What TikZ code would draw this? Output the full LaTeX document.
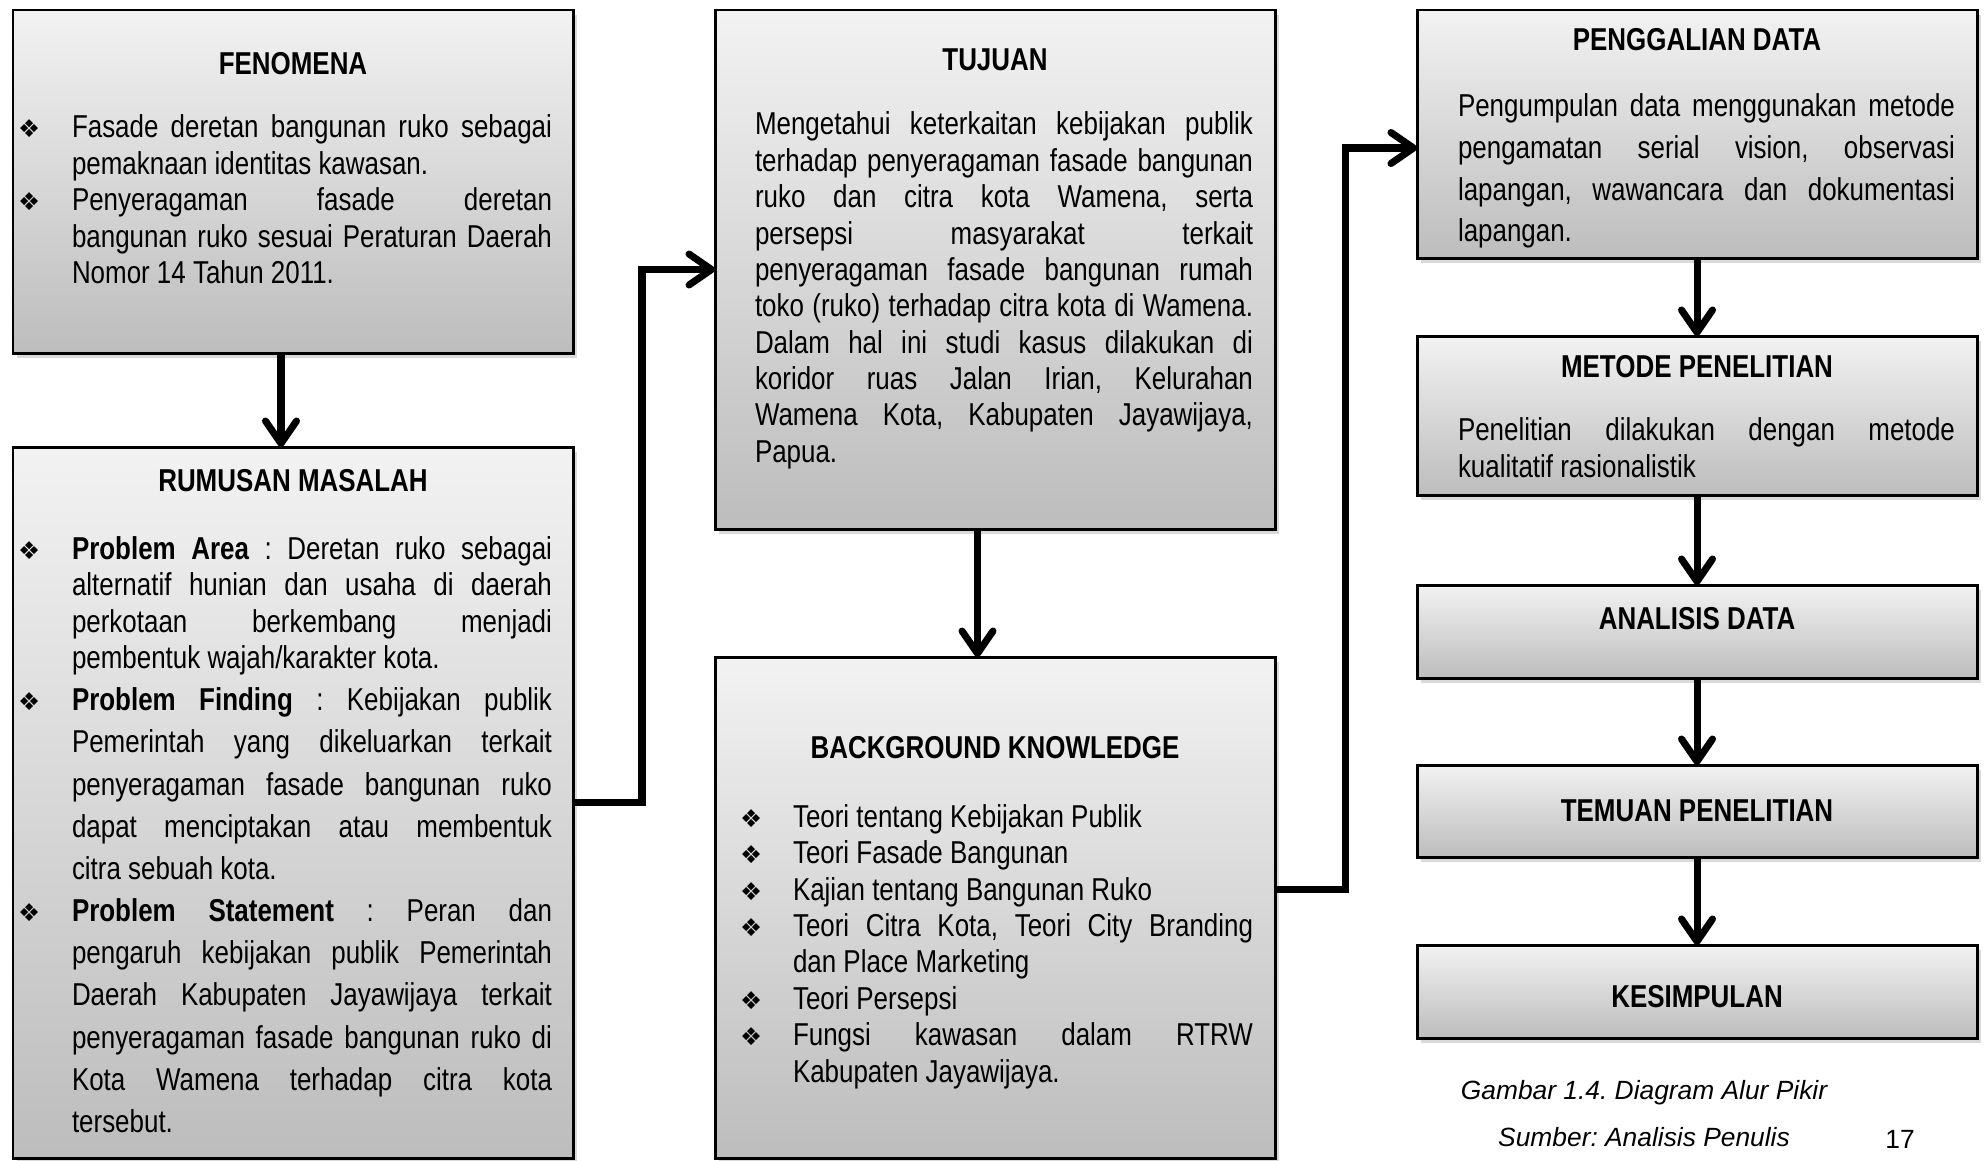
\documentclass[tikz,border=0pt]{standalone}
\usepackage{fontspec}
\setmainfont{Liberation Sans}[FakeStretch=0.82]
\newfontfamily\tandafont{DejaVu Sans}
\newfontfamily\capfont{Liberation Sans}
\usetikzlibrary{positioning,shadows,arrows.meta}
\frenchspacing

\newcommand{\tanda}{{\tandafont\fontsize{14}{14}\selectfont ❖}}
\newcommand{\butir}[1][1.08cm]{\par\hangindent=#1\hangafter=1\noindent\makebox[#1][l]{\tanda}\ignorespaces}
\newcommand{\teks}{\fontsize{18}{20.7}\selectfont\tolerance=10000\hbadness=10000\hyphenpenalty=10000}

\tikzset{
  kotak/.style={draw, line width=1.7pt, top color=gray!10, bottom color=gray!52,
    minimum width=11.2cm, outer sep=0pt, inner sep=0pt,
    drop shadow={shadow xshift=0.08cm, shadow yshift=-0.1cm, opacity=0.3}},
  judul/.style={font=\teks\bfseries, inner sep=0pt, outer sep=0pt},
  isi/.style={font=\teks, text width=#1, align=justify, inner sep=0pt, outer sep=0pt},
  panah/.style={line width=4pt, -{Straight Barb[length=0.45cm, width=0.62cm, round]}},
  keterangan/.style={font=\capfont\fontsize{15}{18}\selectfont, inner sep=0pt},
  miring/.style={font=\capfont\fontsize{15}{18}\selectfont\itshape, inner sep=0pt}
}

\begin{document}
\begin{tikzpicture}
    \useasboundingbox (0,0) rectangle (39.72,-23.2);
    % kotak-kotak
    \node[kotak, minimum height=6.86cm, anchor=north west] (fen) at (0.26,-0.2) {};
    \node[kotak, minimum height=14.22cm, below=1.88cm of fen] (rum) {};
    \node[kotak, minimum height=10.38cm, right=2.84cm of fen.north east, anchor=north west] (tuj) {};
    \node[kotak, minimum height=10.02cm, below=2.56cm of tuj] (bg) {};
    \node[kotak, minimum height=4.96cm, right=2.84cm of tuj.north east, anchor=north west] (pen) {};
    \node[kotak, minimum height=3.18cm, below=1.56cm of pen] (met) {};
    \node[kotak, minimum height=1.86cm, below=1.8cm of met] (ana) {};
    \node[kotak, minimum height=1.84cm, below=1.74cm of ana] (tem) {};
    \node[kotak, minimum height=1.86cm, below=1.76cm of tem] (kes) {};
    % judul
    \node[judul, below=0.84cm of fen.north] (fenjudul) {FENOMENA};
    \node[judul, below=0.44cm of rum.north] (rumjudul) {RUMUSAN MASALAH};
    \node[judul, below=0.78cm of tuj.north] (tujjudul) {TUJUAN};
    \node[judul, below=1.58cm of bg.north] (bgjudul) {BACKGROUND KNOWLEDGE};
    \node[judul, below=0.36cm of pen.north] (penjudul) {PENGGALIAN DATA};
    \node[judul, below=0.38cm of met.north] (metjudul) {METODE PENELITIAN};
    \node[judul, below=0.44cm of ana.north] (anajudul) {ANALISIS DATA};
    \node[judul, below=0.7cm of tem.north] (temjudul) {TEMUAN PENELITIAN};
    \node[judul, below=0.8cm of kes.north] (kesjudul) {KESIMPULAN};
    % isi
    \node[isi=10.68cm, below right=1.83cm and 0.1cm of fen.north west] (fenisi) {%
      \butir Fasade deretan bangunan ruko sebagai \linebreak pemaknaan identitas kawasan.
      \butir Penyeragaman fasade deretan \linebreak bangunan ruko sesuai Peraturan Daerah \linebreak Nomor 14 Tahun 2011.\par};
    \node[isi=10.68cm, below right=1.52cm and 0.1cm of rum.north west] (rumisi) {%
      \butir \textbf{Problem Area} : Deretan ruko sebagai \linebreak alternatif hunian dan usaha di daerah \linebreak perkotaan berkembang menjadi \linebreak pembentuk wajah/karakter kota.
      \butir \baselineskip=24pt \textbf{Problem Finding} : Kebijakan publik \linebreak Pemerintah yang dikeluarkan terkait \linebreak penyeragaman fasade bangunan ruko \linebreak dapat menciptakan atau membentuk \linebreak citra sebuah kota.
      \butir \textbf{Problem Statement} : Peran dan \linebreak pengaruh kebijakan publik Pemerintah \linebreak Daerah Kabupaten Jayawijaya terkait \linebreak penyeragaman fasade bangunan ruko di \linebreak Kota Wamena terhadap citra kota \linebreak tersebut.\par};
    \node[isi=9.96cm, below right=2.04cm and 0.8cm of tuj.north west] (tujisi) {%
      \noindent Mengetahui keterkaitan kebijakan publik \linebreak terhadap penyeragaman fasade bangunan \linebreak ruko dan citra kota Wamena, serta \linebreak persepsi masyarakat terkait \linebreak penyeragaman fasade bangunan rumah \linebreak toko (ruko) terhadap citra kota di Wamena. \linebreak Dalam hal ini studi kasus dilakukan di \linebreak koridor ruas Jalan Irian, Kelurahan \linebreak Wamena Kota, Kabupaten Jayawijaya, \linebreak Papua.\par};
    \node[isi=10.26cm, below right=2.68cm and 0.5cm of bg.north west] (bgisi) {%
      \butir[1.06cm] Teori tentang Kebijakan Publik
      \butir[1.06cm] Teori Fasade Bangunan
      \butir[1.06cm] Kajian tentang Bangunan Ruko
      \butir[1.06cm] Teori Citra Kota, Teori City Branding \linebreak dan Place Marketing
      \butir[1.06cm] Teori Persepsi
      \butir[1.06cm] Fungsi kawasan dalam RTRW \linebreak Kabupaten Jayawijaya.\par};
    \node[isi=9.94cm, below right=1.68cm and 0.82cm of pen.north west] (penisi) {%
      \noindent\baselineskip=23.7pt Pengumpulan data menggunakan metode \linebreak pengamatan serial vision, observasi \linebreak lapangan, wawancara dan dokumentasi \linebreak lapangan.\par};
    \node[isi=9.94cm, below right=1.64cm and 0.82cm of met.north west] (metisi) {%
      \noindent Penelitian dilakukan dengan metode \linebreak kualitatif rasionalistik\par};
    % panah
    \draw[panah] ([xshift=-0.24cm]fen.south) -- ([xshift=-0.24cm]rum.north);
    \draw[panah] (rum.east) -- ++(1.38,0) |- (tuj.west);
    \draw[panah] ([xshift=-0.35cm]tuj.south) -- ([xshift=-0.35cm]bg.north);
    \draw[panah] ([yshift=0.37cm]bg.east) -- ++(1.4,0) |- ([yshift=-0.28cm]pen.west);
    \draw[panah] (pen.south) -- (met.north);
    \draw[panah] (met.south) -- (ana.north);
    \draw[panah] (ana.south) -- (tem.north);
    \draw[panah] (tem.south) -- (kes.north);
    % keterangan
    \node[miring] (gambar) at (32.88,-21.86) {Gambar 1.4. Diagram Alur Pikir};
    \node[miring, below=0.42cm of gambar] (sumber) {Sumber: Analisis Penulis};
    \node[keterangan] (halaman) at (38.0,-22.78) {17};
\end{tikzpicture}
\end{document}
